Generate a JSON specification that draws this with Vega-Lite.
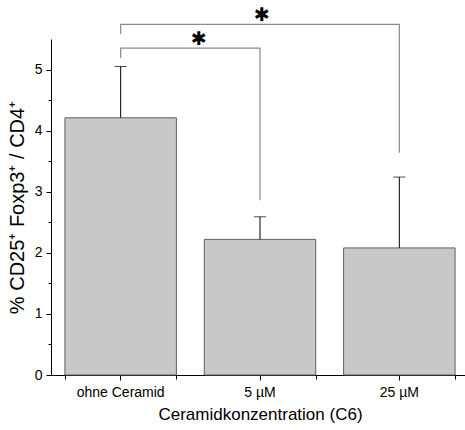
{
  "$schema": "https://vega.github.io/schema/vega-lite/v6.json",
  "autosize": "none",
  "width": 414,
  "height": 336,
  "padding": {"left": 51, "top": 39, "right": 0, "bottom": 55},
  "background": "white",
  "config": {
    "view": {"stroke": null},
    "font": "Liberation Sans",
    "axis": {"labelFont": "Liberation Sans", "titleFont": "Liberation Sans", "labelColor": "black", "titleColor": "black", "domainColor": "black", "tickColor": "black", "grid": false, "titleFontWeight": "normal"}
  },
  "datasets": {
    "bars": [
      {"group": "ohne Ceramid", "value": 4.21, "err": 5.05},
      {"group": "5 µM", "value": 2.22, "err": 2.59},
      {"group": "25 µM", "value": 2.08, "err": 3.24}
    ],
    "brackets": [
      {"bracket": "inner", "group": "ohne Ceramid", "y": 5.19, "ord": 1},
      {"bracket": "inner", "group": "ohne Ceramid", "y": 5.35, "ord": 2},
      {"bracket": "inner", "group": "5 µM", "y": 5.35, "ord": 3},
      {"bracket": "inner", "group": "5 µM", "y": 2.86, "ord": 4},
      {"bracket": "outer", "group": "ohne Ceramid", "y": 5.58, "ord": 1},
      {"bracket": "outer", "group": "ohne Ceramid", "y": 5.74, "ord": 2},
      {"bracket": "outer", "group": "25 µM", "y": 5.74, "ord": 3},
      {"bracket": "outer", "group": "25 µM", "y": 3.64, "ord": 4}
    ],
    "stars": [
      {"which": "outer", "group": "5 µM", "y": 5.9, "label": "✱"},
      {"which": "inner", "group": "5 µM", "y": 5.5, "label": "✱"}
    ]
  },
  "layer": [
    {
      "data": {"name": "bars"},
      "mark": {"type": "bar", "fill": "#c8c8c8", "stroke": "#606060", "strokeWidth": 1},
      "encoding": {
        "x": {
          "field": "group", "type": "nominal",
          "sort": ["ohne Ceramid", "5 µM", "25 µM"],
          "scale": {"range": [0, 418], "paddingInner": 0.2, "paddingOuter": 0.1},
          "axis": {"orient": "bottom", "title": "Ceramidkonzentration (C6)", "titleFontSize": 17, "titlePadding": 7, "labelFontSize": 14, "labelAngle": 0, "labelPadding": 5, "tickSize": 5, "domainColor": "black"}
        },
        "y": {
          "field": "value", "type": "quantitative",
          "scale": {"domain": [0, 5.5], "nice": false},
          "axis": {"orient": "left", "values": [0, 1, 2, 3, 4, 5], "title": "% CD25⁺ Foxp3⁺ / CD4⁺", "titleFontSize": 20, "titlePadding": 7, "labelFontSize": 14, "labelPadding": 4, "tickSize": 5}
        }
      }
    },
    {
      "data": {"name": "bars"},
      "mark": {"type": "rule", "color": "black", "strokeWidth": 1},
      "encoding": {
        "x": {"field": "group", "type": "nominal", "sort": ["ohne Ceramid", "5 µM", "25 µM"],
          "axis": {"orient": "bottom", "title": null, "labels": false, "domain": false, "tickBand": "extent", "tickSize": 4}},
        "y": {"field": "value", "type": "quantitative",
          "axis": {"orient": "left", "title": null, "labels": false, "domain": false, "values": [0.5, 1.5, 2.5, 3.5, 4.5], "tickSize": 3}},
        "y2": {"field": "err"}
      }
    },
    {
      "data": {"name": "bars"},
      "mark": {"type": "tick", "orient": "horizontal", "color": "black", "size": 12, "thickness": 1},
      "encoding": {
        "x": {"field": "group", "type": "nominal", "sort": ["ohne Ceramid", "5 µM", "25 µM"], "axis": null},
        "y": {"field": "err", "type": "quantitative", "axis": null}
      }
    },
    {
      "data": {"name": "brackets"},
      "mark": {"type": "line", "color": "#8c8c8c", "strokeWidth": 1.2},
      "encoding": {
        "x": {"field": "group", "type": "nominal", "sort": ["ohne Ceramid", "5 µM", "25 µM"], "axis": null},
        "y": {"field": "y", "type": "quantitative", "axis": null},
        "detail": {"field": "bracket"},
        "order": {"field": "ord"}
      }
    },
    {
      "data": {"name": "stars"},
      "transform": [{"filter": "datum.which == 'outer'"}],
      "mark": {"type": "text", "font": "DejaVu Sans", "fontSize": 19, "color": "black", "baseline": "middle", "align": "center", "dx": 2},
      "encoding": {
        "x": {"field": "group", "type": "nominal", "sort": ["ohne Ceramid", "5 µM", "25 µM"], "axis": null},
        "y": {"field": "y", "type": "quantitative", "axis": null},
        "text": {"field": "label"}
      }
    },
    {
      "data": {"name": "stars"},
      "transform": [{"filter": "datum.which == 'inner'"}],
      "mark": {"type": "text", "font": "DejaVu Sans", "fontSize": 19, "color": "black", "baseline": "middle", "align": "center", "dx": -61},
      "encoding": {
        "x": {"field": "group", "type": "nominal", "sort": ["ohne Ceramid", "5 µM", "25 µM"], "axis": null},
        "y": {"field": "y", "type": "quantitative", "axis": null},
        "text": {"field": "label"}
      }
    }
  ],
  "resolve": {"axis": {"x": "independent", "y": "independent"}}
}
